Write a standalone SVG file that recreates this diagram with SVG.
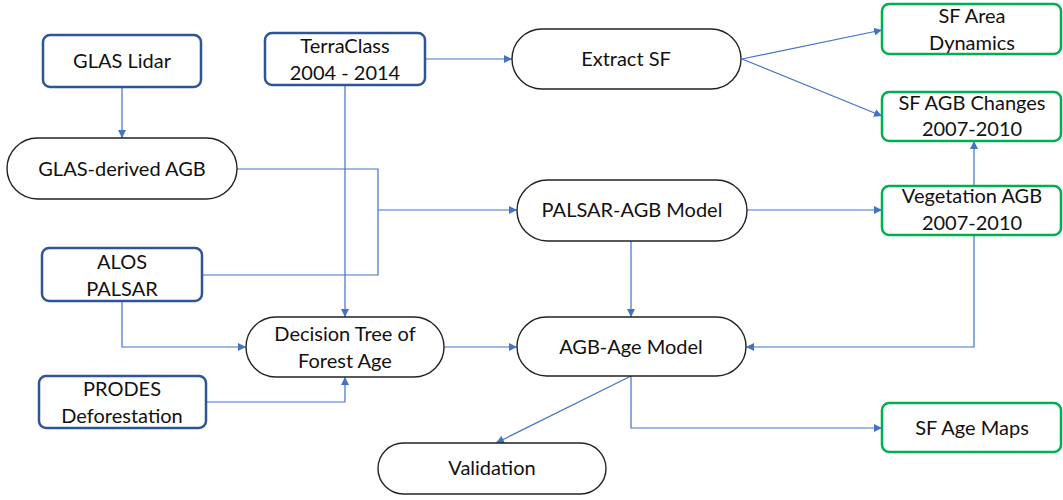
<svg xmlns="http://www.w3.org/2000/svg" width="1063" height="500" viewBox="0 0 1063 500">
<style>
.bg{fill:#ffffff}
.src{fill:#ffffff;stroke:#2F5597;stroke-width:2.5}
.out{fill:#ffffff;stroke:#00B050;stroke-width:2.5}
.proc{fill:#ffffff;stroke:#222222;stroke-width:1.4}
.lbl{font-family:Lato,"Open Sans","Liberation Sans",sans-serif;font-size:20px;fill:#111111;text-anchor:middle}
.con{fill:none;stroke:#4472C4;stroke-width:1.2}
</style>
<defs>
<marker id="ah" viewBox="0 0 10 10" refX="10" refY="5" markerWidth="8" markerHeight="8" markerUnits="userSpaceOnUse" orient="auto">
<path d="M0,0 L10,5 L0,10 Z" fill="#4472C4"/>
</marker>
</defs>
<rect class="bg" x="0" y="0" width="1063" height="500"/>

<g id="connectors">
<path class="con" d="M122,87 V138" marker-end="url(#ah)"/>
<path class="con" d="M425,59 H512" marker-end="url(#ah)"/>
<path class="con" d="M345,85 V317" marker-end="url(#ah)"/>
<path class="con" d="M237,169 H378 V275 H202"/>
<path class="con" d="M378,210 H517" marker-end="url(#ah)"/>
<path class="con" d="M122,301 V347 H246" marker-end="url(#ah)"/>
<path class="con" d="M206,402 H345 V377" marker-end="url(#ah)"/>
<path class="con" d="M444,347 H517" marker-end="url(#ah)"/>
<path class="con" d="M742,59 L882,30" marker-end="url(#ah)"/>
<path class="con" d="M742,59 L882,116" marker-end="url(#ah)"/>
<path class="con" d="M747,210 H882" marker-end="url(#ah)"/>
<path class="con" d="M974,186 V141" marker-end="url(#ah)"/>
<path class="con" d="M631,241 V317" marker-end="url(#ah)"/>
<path class="con" d="M974,235 V347 H746" marker-end="url(#ah)"/>
<path class="con" d="M631,376 L496,443" marker-end="url(#ah)"/>
<path class="con" d="M631,376 V428 H882" marker-end="url(#ah)"/>
</g>

<g id="glas-lidar">
<rect class="src" x="43" y="35" width="158" height="52" rx="7"/>
<text class="lbl" x="122" y="68">GLAS Lidar</text>
</g>
<g id="terraclass">
<rect class="src" x="265" y="33" width="160" height="52" rx="7"/>
<text class="lbl" x="345" y="53">TerraClass</text>
<text class="lbl" x="345" y="80">2004 - 2014</text>
</g>
<g id="glas-agb">
<rect class="proc" x="7" y="138" width="230" height="61" rx="30.5"/>
<text class="lbl" x="122" y="176">GLAS-derived AGB</text>
</g>
<g id="alos-palsar">
<rect class="src" x="42" y="248" width="160" height="53" rx="7"/>
<text class="lbl" x="122" y="269">ALOS</text>
<text class="lbl" x="122" y="296">PALSAR</text>
</g>
<g id="decision-tree">
<rect class="proc" x="246" y="317" width="198" height="60" rx="30"/>
<text class="lbl" x="345" y="341">Decision Tree of</text>
<text class="lbl" x="345" y="368">Forest Age</text>
</g>
<g id="prodes">
<rect class="src" x="39" y="376" width="167" height="52" rx="7"/>
<text class="lbl" x="122" y="396">PRODES</text>
<text class="lbl" x="122" y="423">Deforestation</text>
</g>
<g id="extract-sf">
<rect class="proc" x="512" y="29" width="229" height="60" rx="30"/>
<text class="lbl" x="626" y="66">Extract SF</text>
</g>
<g id="palsar-agb">
<rect class="proc" x="517" y="180" width="230" height="61" rx="30.5"/>
<text class="lbl" x="632" y="217">PALSAR-AGB Model</text>
</g>
<g id="agb-age">
<rect class="proc" x="517" y="317" width="229" height="59" rx="29.5"/>
<text class="lbl" x="631" y="354">AGB-Age Model</text>
</g>
<g id="validation">
<rect class="proc" x="378" y="443" width="228" height="51" rx="25.5"/>
<text class="lbl" x="492" y="475">Validation</text>
</g>
<g id="sf-area">
<rect class="out" x="882" y="4" width="179" height="50" rx="7"/>
<text class="lbl" x="972" y="23">SF Area</text>
<text class="lbl" x="972" y="50">Dynamics</text>
</g>
<g id="sf-agb-changes">
<rect class="out" x="882" y="92" width="179" height="49" rx="7"/>
<text class="lbl" x="972" y="110">SF AGB Changes</text>
<text class="lbl" x="972" y="136">2007-2010</text>
</g>
<g id="vegetation-agb">
<rect class="out" x="882" y="186" width="179" height="49" rx="7"/>
<text class="lbl" x="972" y="203">Vegetation AGB</text>
<text class="lbl" x="972" y="230">2007-2010</text>
</g>
<g id="sf-age-maps">
<rect class="out" x="882" y="403" width="179" height="49" rx="7"/>
<text class="lbl" x="972" y="435">SF Age Maps</text>
</g>
</svg>
